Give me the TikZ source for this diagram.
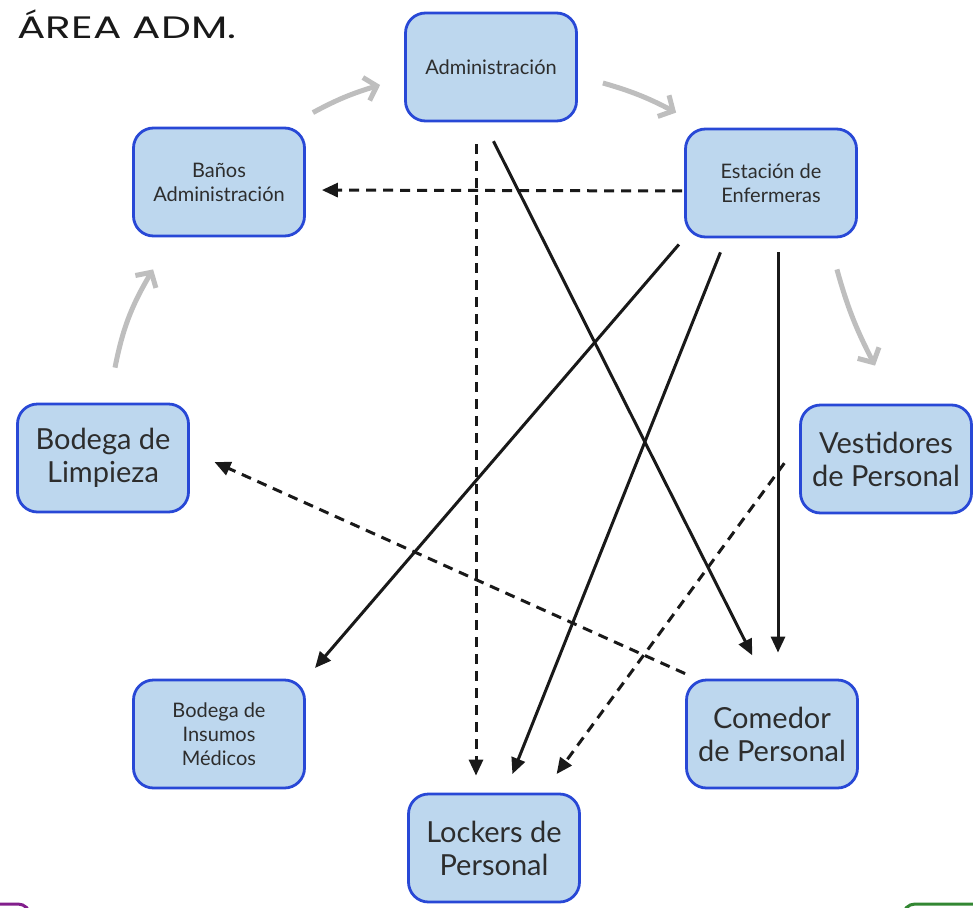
\documentclass[tikz,border=0pt]{standalone}
\usepackage{fontspec}
\setmainfont{Lato}
\newfontfamily\titlefont{Poppins}
\usetikzlibrary{arrows.meta,bending}

\definecolor{boxfill}{RGB}{189,215,238}
\definecolor{boxline}{RGB}{40,72,214}
\definecolor{flowgray}{RGB}{190,190,190}
\definecolor{textgray}{RGB}{45,45,45}
\definecolor{framepurple}{RGB}{130,30,140}
\definecolor{framegreen}{RGB}{50,135,50}

\begin{document}
\begin{tikzpicture}[x=1pt,y=-1pt]
\tikzset{ >={Triangle[length=16pt,width=14pt]},
  area/.style={draw=boxline, fill=boxfill, line width=2.8pt, rounded corners=20pt,
    minimum width=171pt, minimum height=108pt, text=textgray, align=center, inner sep=0pt},
  small/.style={area, font=\fontsize{20}{24}\selectfont},
  large/.style={area, font=\fontsize{29}{33}\selectfont},
  flow/.style={->, line width=3pt, black!90},
  dflow/.style={flow, dash pattern=on 10pt off 7pt},
  loopflow/.style={-{Straight Barb[length=11pt,width=24pt]}, line width=5pt, flowgray},
}
\clip (0,0) rectangle (973,907);

\node [anchor=base west, text=black!90] (title) at (14,38)
  {\titlefont\fontsize{31}{31}\selectfont\scalebox{1.36}[1]{ÁREA ADM.}};

% rooms
\node [small] (adm)  at (491,67)  {Administración};
\node [small] (ban)  at (219,182) {Baños\\Administración};
\node [small] (enf)  at (771,183) {Estación de\\Enfermeras};
\node [large] (lim)  at (103,458) {Bodega de\\Limpieza};
\node [large] (ves)  at (886,459) {Vestidores\\de Personal};
\node [small] (ins)  at (219,734) {Bodega de\\Insumos\\Médicos};
\node [large] (com)  at (772,734) {Comedor\\de Personal};
\node [large] (lock) at (494,848) {Lockers de\\Personal};

% gray circuit
\draw [loopflow] ([shift={(7,-14)}]ban.north east) to[bend left=6]  ([shift={(-24,18)}]adm.west);
\draw [loopflow] ([shift={(25,16)}]adm.east)        to[bend left=6]  ([shift={(-8,-15)}]enf.north west);
\draw [loopflow] ([shift={(-21,31)}]enf.south east) to[bend right=6] ([shift={(-11,-38)}]ves.north);
\draw [loopflow] ([shift={(12,-35)}]lim.north)      to[bend left=10] ([shift={(21,32)}]ban.south west);

% dashed links
\draw [dflow, shorten <=2pt, shorten >=16pt] ([shift={(0,8)}]enf.west) -- ([shift={(0,8)}]ban.east);
\draw [dflow, shorten <=22pt, shorten >=17pt] ([shift={(-15,0)}]adm.south) -- ([shift={(-18,0)}]lock.north);
\draw [dflow, shorten >=27pt] ([shift={(0,-5)}]com.north west) -- ([shift={(0,-7)}]lim.east);
\draw [dflow, shorten <=25pt, shorten >=23pt] ([shift={(0,-16)}]ves.west) -- ([shift={(49,0)}]lock.north);

% solid links
\draw [flow, shorten <=21pt, shorten >=26pt] ([shift={(-7,0)}]adm.south) -- ([shift={(-8,0)}]com.north);
\draw [flow, shorten <=8pt,  shorten >=14pt] (enf.south west) -- (ins.north east);
\draw [flow, shorten <=15pt, shorten >=20pt] ([shift={(-45,0)}]enf.south) -- ([shift={(11,0)}]lock.north);
\draw [flow, shorten <=14pt, shorten >=26pt] ([shift={(7,0)}]enf.south) -- ([shift={(6,0)}]com.north);

% neighbouring frames
\draw [framepurple, line width=3pt, rounded corners=12pt] (-40,960) rectangle (30,904);
\draw [framegreen, line width=3pt, rounded corners=12pt] (903,904) rectangle (1040,960);

\end{tikzpicture}
\end{document}
